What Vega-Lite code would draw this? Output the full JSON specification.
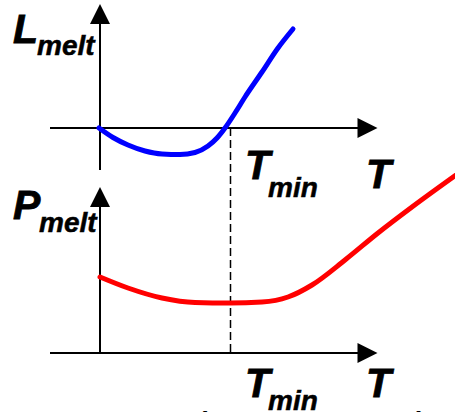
{
  "$schema": "https://vega.github.io/schema/vega-lite/v6.json",
  "autosize": {"type": "fit", "contains": "padding"},
  "padding": 0,
  "width": 455,
  "height": 412,
  "background": "white",
  "config": {"view": {"stroke": null}},
  "datasets": {
    "axes": [
      {"panel": "L", "part": "vertical", "x": 100, "y": 22, "x2": 100, "y2": 170},
      {"panel": "L", "part": "horizontal", "x": 50, "y": 128, "x2": 360, "y2": 128},
      {"panel": "P", "part": "vertical", "x": 100, "y": 205, "x2": 100, "y2": 353},
      {"panel": "P", "part": "horizontal", "x": 50, "y": 353, "x2": 360, "y2": 353}
    ],
    "arrowsUp": [
      {"panel": "L", "x": 100, "y": 14},
      {"panel": "P", "x": 100, "y": 197}
    ],
    "arrowsRight": [
      {"panel": "L", "x": 367.5, "y": 128},
      {"panel": "P", "x": 367.5, "y": 353}
    ],
    "tmin": [
      {"x": 230.5, "y": 128, "x2": 230.5, "y2": 353}
    ],
    "curves": [
      {"series": "L", "x": 99, "y": 128},
      {"series": "L", "x": 113, "y": 137.5},
      {"series": "L", "x": 128, "y": 145},
      {"series": "L", "x": 145, "y": 151},
      {"series": "L", "x": 162, "y": 154},
      {"series": "L", "x": 180, "y": 154.5},
      {"series": "L", "x": 195, "y": 152.5},
      {"series": "L", "x": 208, "y": 146},
      {"series": "L", "x": 217, "y": 138},
      {"series": "L", "x": 225, "y": 128},
      {"series": "L", "x": 235, "y": 113},
      {"series": "L", "x": 245, "y": 97},
      {"series": "L", "x": 262, "y": 72},
      {"series": "L", "x": 278, "y": 48},
      {"series": "L", "x": 293, "y": 29},
      {"series": "P", "x": 100, "y": 277},
      {"series": "P", "x": 128, "y": 288},
      {"series": "P", "x": 162, "y": 298},
      {"series": "P", "x": 195, "y": 302.5},
      {"series": "P", "x": 230, "y": 303},
      {"series": "P", "x": 262, "y": 302},
      {"series": "P", "x": 288, "y": 297},
      {"series": "P", "x": 312, "y": 285},
      {"series": "P", "x": 345, "y": 260},
      {"series": "P", "x": 378, "y": 233},
      {"series": "P", "x": 412, "y": 207},
      {"series": "P", "x": 456, "y": 175}
    ],
    "bigLabels": [
      {"label": "L", "x": 13, "y": 43},
      {"label": "P", "x": 13, "y": 219},
      {"label": "T", "x": 245, "y": 179},
      {"label": "T", "x": 366, "y": 188},
      {"label": "T", "x": 245, "y": 397},
      {"label": "T", "x": 366, "y": 397}
    ],
    "subLabels": [
      {"label": "melt", "x": 37, "y": 55},
      {"label": "melt", "x": 39, "y": 232},
      {"label": "min", "x": 268, "y": 197},
      {"label": "min", "x": 268, "y": 410}
    ],
    "parens": [
      {"label": "(", "x": 193, "y": 443},
      {"label": ")", "x": 416, "y": 443}
    ]
  },
  "encoding": {
    "x": {"field": "x", "type": "quantitative", "scale": {"domain": [0, 455], "nice": false, "zero": false}, "axis": null},
    "y": {"field": "y", "type": "quantitative", "scale": {"domain": [412, 0], "nice": false, "zero": false}, "axis": null}
  },
  "layer": [
    {
      "data": {"name": "axes"},
      "mark": {"type": "rule", "color": "black", "strokeWidth": 2, "clip": true},
      "encoding": {"x2": {"field": "x2"}, "y2": {"field": "y2"}}
    },
    {
      "data": {"name": "tmin"},
      "mark": {"type": "rule", "color": "black", "strokeWidth": 1.5, "strokeDash": [8, 4], "clip": true},
      "encoding": {"x2": {"field": "x2"}, "y2": {"field": "y2"}}
    },
    {
      "data": {"name": "arrowsUp"},
      "mark": {"type": "point", "shape": "M0,-1L1,1L-1,1Z", "size": 400, "filled": true, "color": "black", "opacity": 1, "strokeWidth": 0, "clip": true}
    },
    {
      "data": {"name": "arrowsRight"},
      "mark": {"type": "point", "shape": "M-1,-1L1,0L-1,1Z", "size": 400, "filled": true, "color": "black", "opacity": 1, "strokeWidth": 0, "clip": true}
    },
    {
      "data": {"name": "curves"},
      "mark": {"type": "line", "interpolate": "monotone", "strokeWidth": 5, "strokeCap": "round", "clip": true},
      "encoding": {
        "color": {"field": "series", "type": "nominal", "scale": {"domain": ["L", "P"], "range": ["#0000ff", "#ff0000"]}, "legend": null},
        "detail": {"field": "series"}
      }
    },
    {
      "data": {"name": "bigLabels"},
      "mark": {"type": "text", "font": "Liberation Sans", "fontWeight": "bold", "fontStyle": "italic", "fontSize": 41, "align": "left", "baseline": "alphabetic", "color": "black", "stroke": "black", "strokeWidth": 0.8, "clip": true},
      "encoding": {"text": {"field": "label"}}
    },
    {
      "data": {"name": "subLabels"},
      "mark": {"type": "text", "font": "Liberation Sans", "fontWeight": "bold", "fontStyle": "italic", "fontSize": 28, "align": "left", "baseline": "alphabetic", "color": "black", "stroke": "black", "strokeWidth": 0.5, "clip": true},
      "encoding": {"text": {"field": "label"}}
    },
    {
      "data": {"name": "parens"},
      "mark": {"type": "text", "font": "Liberation Sans", "fontSize": 44, "align": "left", "baseline": "alphabetic", "color": "black", "clip": true},
      "encoding": {"text": {"field": "label"}}
    }
  ]
}
